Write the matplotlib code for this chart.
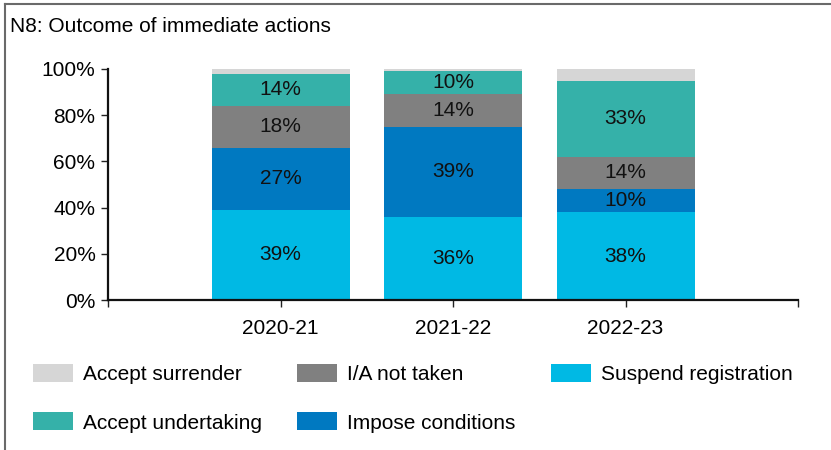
import matplotlib
matplotlib.use('Agg')
import matplotlib.pyplot as plt
from matplotlib.lines import Line2D
from matplotlib.patches import Patch

years = ['2020-21', '2021-22', '2022-23']
suspend_registration = [39, 36, 38]
impose_conditions = [27, 39, 10]
ia_not_taken = [18, 14, 14]
accept_undertaking = [14, 10, 33]
accept_surrender = [2, 1, 5]
yticks = [0, 20, 40, 60, 80, 100]


def main():
    plt.rcParams['font.family'] = ['Liberation Sans', 'DejaVu Sans']
    fs = 15
    fig = plt.figure(figsize=(8.31, 4.5), dpi=100)
    ax = fig.add_axes([108 / 831, 150 / 450, 690 / 831, 231 / 450])

    series = [
        ('Suspend registration', suspend_registration, '#00b9e4', True),
        ('Impose conditions', impose_conditions, '#0079c1', True),
        ('I/A not taken', ia_not_taken, '#808080', True),
        ('Accept undertaking', accept_undertaking, '#35b1a9', True),
        ('Accept surrender', accept_surrender, '#d6d6d6', False),
    ]
    x = list(range(len(years)))
    bottom = [0] * len(years)
    colours = {}
    for name, vals, col, lab in series:
        ax.bar(x, vals, 0.8, bottom=bottom, color=col, linewidth=0)
        colours[name] = col
        if lab:
            for i, v in enumerate(vals):
                ax.text(x[i], bottom[i] + v / 2, f'{v}%', ha='center',
                        va='center', fontsize=fs, color='#111111')
        bottom = [b + v for b, v in zip(bottom, vals)]

    ax.set_xlim(-1, len(years))
    ax.set_ylim(0, 100)
    ax.set_xticks([-1] + x + [len(years)])
    ax.set_xticklabels([''] + years + [''], fontsize=fs)
    ax.set_yticks(yticks)
    ax.set_yticklabels([f'{v}%' for v in yticks], fontsize=fs)
    ax.tick_params(length=5, width=1, color='#222222', pad=4)
    ax.tick_params(axis='x', pad=9)
    for s in ['top', 'right']:
        ax.spines[s].set_visible(False)
    for s in ['left', 'bottom']:
        ax.spines[s].set_linewidth(1.6)
        ax.spines[s].set_color('#111111')

    # Title
    fig.text(10 / 831, 1 - 27 / 450, 'N8: Outcome of immediate actions',
             fontsize=fs, va='center', ha='left')

    # Legend, column-major order so rows read left to right
    order = ['Accept surrender', 'Accept undertaking', 'I/A not taken',
             'Impose conditions', 'Suspend registration']
    handles = [Patch(facecolor=colours[n], linewidth=0) for n in order]
    fig.legend(handles, order, loc='upper left',
               bbox_to_anchor=(33 / 831, 1 - 364 / 450), ncol=3,
               frameon=False, fontsize=fs, borderpad=0, borderaxespad=0,
               handlelength=1.9, handleheight=0.95, handletextpad=0.5,
               columnspacing=1.7, labelspacing=1.36)

    # Frame lines on top and left
    fig.add_artist(Line2D([5 / 831, 5 / 831], [0, 1 - 4 / 450],
                          transform=fig.transFigure, color='#6a6a6a', lw=1.5))
    fig.add_artist(Line2D([5 / 831, 1], [1 - 4 / 450, 1 - 4 / 450],
                          transform=fig.transFigure, color='#6a6a6a', lw=1.5))

    fig.savefig('out.png', dpi=100)


if __name__ == '__main__':
    main()
